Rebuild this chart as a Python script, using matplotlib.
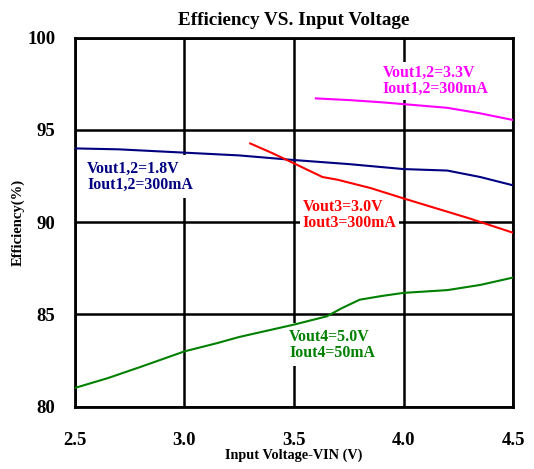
import matplotlib
matplotlib.use('Agg')
import matplotlib.pyplot as plt

# Efficiency vs input voltage
VIN_18 = [2.5, 2.7, 3.0, 3.25, 3.5, 3.75, 4.0, 4.2, 4.35, 4.5]
EFF_18 = [94.0, 93.95, 93.77, 93.62, 93.37, 93.15, 92.88, 92.8, 92.45, 92.0]

VIN_33 = [3.6, 3.75, 3.9, 4.0, 4.2, 4.35, 4.5]
EFF_33 = [96.71, 96.62, 96.5, 96.4, 96.2, 95.9, 95.54]

VIN_30 = [3.3, 3.4, 3.5, 3.63, 3.7, 3.85, 4.0, 4.15, 4.3, 4.5]
EFF_30 = [94.27, 93.75, 93.19, 92.45, 92.3, 91.85, 91.29, 90.75, 90.21, 89.43]

VIN_50 = [2.5, 2.65, 2.8, 3.0, 3.15, 3.25, 3.5, 3.65, 3.72, 3.8, 3.9, 4.0, 4.2, 4.35, 4.5]
EFF_50 = [81.02, 81.55, 82.16, 83.0, 83.45, 83.78, 84.45, 84.9, 85.35, 85.8, 86.0, 86.17, 86.32, 86.6, 87.0]

SERIF = 'Liberation Serif'

fig = plt.figure(figsize=(5.34, 4.69), dpi=100)
ax = fig.add_axes([0.1404, 0.1328, 0.8203, 0.7868])

ax.plot(VIN_18, EFF_18, color='#000080', lw=1.5, zorder=3)
ax.plot(VIN_33, EFF_33, color='#ff00ff', lw=1.5, zorder=3)
ax.plot(VIN_30, EFF_30, color='#ff0000', lw=1.5, zorder=3)
ax.plot(VIN_50, EFF_50, color='#008000', lw=1.5, zorder=3)

ax.set_xlim(2.5, 4.5)
ax.set_ylim(80, 100)
ax.set_xticks([2.5, 3.0, 3.5, 4.0, 4.5])
ax.set_xticklabels(['2.5', '3.0', '3.5', '4.0', '4.5'])
ax.set_yticks([80, 85, 90, 95, 100])
ax.grid(True, color='black', lw=1.8, zorder=1)
ax.set_axisbelow(True)
for s in ax.spines.values():
    s.set_linewidth(2)
ax.tick_params(axis='y', length=0, pad=14, labelsize=13.5)
ax.tick_params(axis='x', length=0, pad=18, labelsize=13.5)
for lab in ax.get_xticklabels() + ax.get_yticklabels():
    lab.set_fontfamily(SERIF)
    lab.set_fontweight('bold')

ax.set_title('Efficiency VS. Input Voltage', fontfamily=SERIF, fontweight='bold',
             fontsize=13.8, pad=9)
ax.set_xlabel('Input Voltage-VIN (V)', fontfamily=SERIF, fontweight='bold',
              fontsize=10.3, labelpad=0)
ax.set_ylabel('Efficiency(%)', fontfamily=SERIF, fontweight='bold',
              fontsize=10.5, labelpad=2)

tkw = dict(fontfamily=SERIF, fontweight='bold', fontsize=11.4, linespacing=1.0,
           ha='left', va='center', zorder=2)
ax.text(3.906, 97.65, 'Vout1,2=3.3V\nIout1,2=300mA', color='#ff00ff',
        bbox=dict(facecolor='white', edgecolor='none', pad=2), **tkw)
ax.text(2.555, 92.46, 'Vout1,2=1.8V\nIout1,2=300mA', color='#000080',
        bbox=dict(facecolor='white', edgecolor='none', pad=4), **tkw)
ax.text(3.54, 90.38, 'Vout3=3.0V\nIout3=300mA', color='#ff0000',
        bbox=dict(facecolor='white', edgecolor='none', pad=2), **tkw)
ax.text(3.477, 83.35, 'Vout4=5.0V\nIout4=50mA', color='#008000',
        bbox=dict(facecolor='white', edgecolor='none', pad=4), **tkw)

fig.savefig('out.png', dpi=100)
